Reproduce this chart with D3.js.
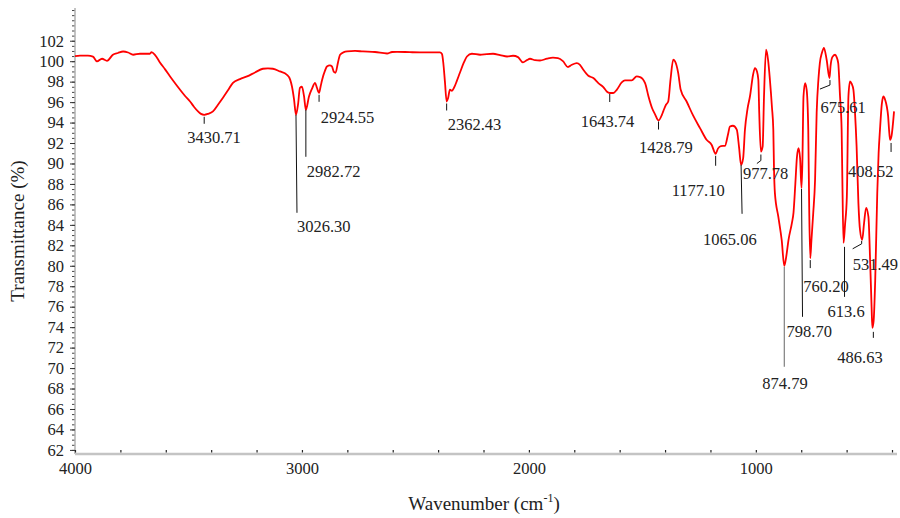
<!DOCTYPE html>
<html>
<head>
<meta charset="utf-8">
<script src="https://cdn.jsdelivr.net/npm/d3@7"></script>
<style>
  html, body { margin: 0; padding: 0; background: #fff; }
  svg { display: block; }
  svg text { font-family: "Liberation Serif", "Times New Roman", "DejaVu Serif", serif !important; }
</style>
</head>
<body>
<svg id="chart" width="900" height="518"></svg>
<script>
// FTIR spectrum: wavenumber (cm-1) against transmittance (%)
const wavenumber = [
  4000, 3978, 3943, 3921, 3903, 3881, 3859, 3833, 3811, 3788, 3766, 3744, 3714, 3670, 3663, 3647,
  3625, 3603, 3581, 3559, 3537, 3515, 3493, 3476, 3458, 3445, 3430.71, 3414, 3392, 3370, 3348, 3326,
  3304, 3273, 3242, 3207, 3172, 3150, 3128, 3097, 3066, 3052, 3044, 3035, 3026.30, 3017, 3009, 3000,
  2991, 2982.72, 2969, 2956, 2942, 2934, 2924.55, 2918, 2911, 2898, 2890, 2877, 2868, 2859, 2852, 2841,
  2832, 2815, 2801, 2766, 2731, 2678, 2625, 2603, 2581, 2524, 2480, 2436, 2392, 2383, 2377, 2370,
  2362.43, 2356, 2348, 2339, 2330, 2317, 2304, 2286, 2273, 2251, 2215, 2185, 2158, 2127, 2096, 2070,
  2048, 2026, 2009, 1995, 1973, 1951, 1920, 1894, 1872, 1850, 1828, 1811, 1789, 1775, 1760, 1738,
  1716, 1694, 1672, 1657, 1643.74, 1628, 1613, 1591, 1577, 1547, 1525, 1510, 1488, 1473, 1457, 1444,
  1428.79, 1414, 1408, 1396, 1386, 1376, 1364, 1356, 1342, 1331, 1305, 1276, 1246, 1217, 1195, 1177.10,
  1167, 1154, 1136, 1123, 1114, 1101, 1084, 1074, 1065.06, 1056, 1048, 1037, 1026, 1012, 1004, 995,
  989, 985, 977.78, 970, 964, 955, 946, 938, 929, 923, 920, 916, 901, 886, 874.79, 866,
  856, 841, 834, 826, 819, 812, 805, 798.70, 795, 790, 783, 776, 769, 764.8, 760.20, 755,
  747, 739, 732, 724, 718, 709, 700, 688, 675.61, 671, 663, 651, 644, 637, 629, 622,
  619, 613.6, 607, 599, 592, 585, 578, 570, 563, 556, 548, 541, 531.49, 523, 514, 504,
  496, 490, 486.63, 481, 474, 465, 459, 453, 445, 438, 430, 423, 417, 413, 408.52, 402,
  397, 391
];
const transmittance = [
  100.50, 100.55, 100.55, 100.45, 99.98, 100.24, 100.04, 100.63, 100.80, 100.95, 100.85, 100.63, 100.73, 100.73, 100.88, 100.60,
  99.85, 99.20, 98.51, 97.85, 97.21, 96.60, 96.06, 95.55, 95.09, 94.85, 94.76, 94.85, 95.09, 95.75, 96.43, 97.15,
  97.89, 98.25, 98.51, 98.90, 99.26, 99.30, 99.26, 99.00, 98.67, 98.20, 97.53, 96.30, 94.76, 95.80, 97.40, 97.50,
  96.60, 95.25, 96.55, 97.30, 97.89, 97.40, 96.91, 97.50, 98.19, 99.10, 99.49, 99.60, 99.49, 98.95, 98.87, 99.90,
  100.63, 100.88, 100.95, 101.00, 100.95, 100.90, 100.75, 100.90, 100.92, 100.88, 100.86, 100.86, 100.86, 100.70, 99.80, 98.00,
  96.06, 96.40, 97.21, 97.10, 97.40, 98.10, 98.87, 99.90, 100.46, 100.73, 100.63, 100.70, 100.73, 100.60, 100.46, 100.53,
  100.40, 99.88, 100.10, 100.24, 100.10, 100.07, 100.25, 100.34, 100.30, 100.00, 99.43, 99.65, 99.82, 99.65, 99.16, 98.58,
  98.35, 97.86, 97.47, 97.04, 96.89, 96.89, 97.20, 97.92, 98.12, 98.12, 98.51, 98.45, 97.86, 96.55, 95.40, 94.80,
  94.20, 94.76, 95.10, 95.74, 96.06, 98.19, 100.14, 99.98, 98.84, 97.20, 96.06, 94.67, 93.46, 92.32, 91.83, 90.95,
  91.45, 91.70, 91.73, 92.80, 93.62, 93.69, 93.30, 91.60, 89.87, 90.50, 93.30, 95.30, 96.55, 98.70, 99.33, 99.00,
  98.19, 94.93, 91.17, 91.66, 96.55, 101.12, 100.10, 98.19, 95.50, 93.30, 89.50, 87.10, 84.80, 82.50, 80.00, 80.90,
  82.54, 84.20, 85.20, 88.00, 90.60, 91.50, 90.50, 87.62, 90.00, 96.55, 97.86, 97.20, 93.30, 85.50, 80.75, 82.50,
  85.18, 88.41, 94.96, 98.30, 99.82, 100.80, 101.30, 100.14, 98.35, 99.50, 100.40, 100.63, 100.40, 99.82, 96.55, 93.30,
  88.80, 82.24, 84.00, 86.77, 96.55, 98.02, 97.80, 97.20, 94.96, 91.66, 86.10, 83.50, 82.54, 84.20, 85.67, 84.80,
  80.20, 76.00, 73.93, 74.60, 78.60, 87.10, 91.00, 93.30, 95.80, 96.55, 96.20, 95.57, 94.60, 93.30, 92.30, 92.70,
  93.62, 95.09
];

// Labelled absorption bands (cm-1)
const peakWavenumbers = [3430.71, 3026.30, 2982.72, 2924.55, 2362.43, 1643.74, 1428.79, 1177.10, 1065.06,
  977.78, 874.79, 798.70, 760.20, 675.61, 613.6, 531.49, 486.63, 408.52];
const peakLabels = ["3430.71", "3026.30", "2982.72", "2924.55", "2362.43", "1643.74", "1428.79", "1177.10", "1065.06",
  "977.78", "874.79", "798.70", "760.20", "675.61", "613.6", "531.49", "486.63", "408.52"];

// Axis ticks
const xTickValues = [4000, 3000, 2000, 1000];
const xTickLabels = ["4000", "3000", "2000", "1000"];
const yTickValues = [102, 100, 98, 96, 94, 92, 90, 88, 86, 84, 82, 80, 78, 76, 74, 72, 70, 68, 66, 64, 62];
const yTickLabels = ["102", "100", "98", "96", "94", "92", "90", "88", "86", "84", "82", "80", "78", "76", "74", "72", "70", "68", "66", "64", "62"];

// Leader line (relative points) and text offset for each band label, in pixels from the band minimum
const labelLayout = [
  { leader: [[0, 2], [0, 9]], dx: -17, dy: 28.5 },
  { leader: [[0, 0], [1, 98]], dx: 1, dy: 117 },
  { leader: [[0, 0], [0, 47]], dx: 1, dy: 67 },
  { leader: [[0, 2], [0, 9]], dx: 1.6, dy: 30.5 },
  { leader: [[0, 2], [0, 9]], dx: 1, dy: 28.5 },
  { leader: [[0, 1], [0, 9]], dx: -29, dy: 33.7 },
  { leader: [[0, 1], [0, 9]], dx: -19.5, dy: 32.8 },
  { leader: [[0, 2], [0, 12]], dx: -44, dy: 42 },
  { leader: [[0, 0], [1, 49]], dx: -38, dy: 80 },
  { leader: [[0, 3], [0, 9], [-4, 12]], dx: -18, dy: 27.5 },
  { leader: [[0, 1], [0, 101]], dx: -22, dy: 123 },
  { leader: [[0, 1], [1, 129]], dx: -15, dy: 149.5 },
  { leader: [[0, 2], [0, 10]], dx: -7, dy: 33.6 },
  { leader: [[0.5, 2], [0.5, 7], [-9.5, 11]], dx: -9, dy: 35 },
  { leader: [[1, 4], [1, 54]], dx: -16, dy: 74 },
  { leader: [[-0.5, 1], [-0.5, 4], [-9.5, 9]], dx: -9.5, dy: 30 },
  { leader: [[1, 4], [1, 10]], dx: -35, dy: 35.4 },
  { leader: [[1, 3], [1, 12]], dx: -42, dy: 36.7 }
];

const FONT = "'Liberation Serif', 'Times New Roman', 'DejaVu Serif', serif";
const svg = d3.select("#chart").attr("font-family", FONT);

const x = d3.scaleLinear().domain([4000, 378]).range([75, 897]);
const y = d3.scaleLinear().domain([61.6, 105.2]).range([454, 8]);

const spectrum = wavenumber.map((w, i) => ({ w, t: transmittance[i] }));

// Left axis: minor ticks every 0.5 %, labelled majors every 2 %
const minorY = d3.range(62, 105.01, 0.5);
const gyMinor = svg.append("g").attr("transform", "translate(75,0)")
  .call(d3.axisLeft(y).tickValues(minorY).tickSize(3).tickFormat(""));
gyMinor.select(".domain").remove();
gyMinor.selectAll(".tick line").attr("stroke", "#444").attr("stroke-width", 1);

const gy = svg.append("g").attr("transform", "translate(75,0)")
  .call(d3.axisLeft(y).tickValues(yTickValues).tickSize(5).tickPadding(6)
    .tickFormat((d, i) => yTickLabels[i]));
gy.attr("font-family", FONT).attr("font-size", 16.5);
gy.select(".domain").attr("stroke", "#b0b0b0").attr("stroke-width", 1.5)
  .attr("d", `M0,${y.range()[0]}V${y.range()[1]}`);
gy.selectAll(".tick line").attr("stroke", "#333");
gy.selectAll(".tick text").attr("fill", "#222");

// Bottom axis: thick grey baseline with small inward ticks every 200 cm-1
const minorX = d3.range(4000, 377, -200);
const gxMinor = svg.append("g").attr("transform", "translate(0,454)")
  .call(d3.axisBottom(x).tickValues(minorX).tickSize(-3).tickFormat(""));
gxMinor.select(".domain").attr("stroke", "#c4c4c4").attr("stroke-width", 2.5)
  .attr("d", `M${x.range()[0]},0H${x.range()[1]}`);
gxMinor.selectAll(".tick line").attr("stroke", "#222").attr("stroke-width", 1.2)
  .attr("y1", -1.5).attr("y2", -4);

const gx = svg.append("g").attr("transform", "translate(0,454)")
  .call(d3.axisBottom(x).tickValues(xTickValues).tickSize(0).tickPadding(8)
    .tickFormat((d, i) => xTickLabels[i]));
gx.attr("font-family", FONT).attr("font-size", 16.5);
gx.select(".domain").remove();
gx.selectAll(".tick text").attr("fill", "#222");

// Axis titles
svg.append("text")
  .attr("transform", "translate(24,231) rotate(-90)")
  .attr("text-anchor", "middle")
  .attr("fill", "#222")
  .attr("font-size", 19)
  .text("Transmittance (%)");

const xt = svg.append("text")
  .attr("x", 484).attr("y", 510)
  .attr("text-anchor", "middle")
  .attr("fill", "#222")
  .attr("font-size", 19);
xt.append("tspan").text("Wavenumber (cm");
xt.append("tspan").attr("dy", -8).attr("font-size", 12).text("-1");
xt.append("tspan").attr("dy", 8).text(")");

// Spectrum trace
const line = d3.line().x(d => x(d.w)).y(d => y(d.t)).curve(d3.curveMonotoneX);
svg.append("path")
  .datum(spectrum)
  .attr("fill", "none")
  .attr("stroke", "#ff0000")
  .attr("stroke-width", 1.8)
  .attr("stroke-linejoin", "round")
  .attr("d", line);

// Band labels with leader lines
const ann = svg.append("g").attr("font-family", FONT).attr("font-size", 16.5);
peakWavenumbers.forEach((w, i) => {
  const idx = wavenumber.indexOf(w);
  const px = x(w), py = y(transmittance[idx]);
  const lay = labelLayout[i];
  ann.append("path")
    .attr("fill", "none")
    .attr("stroke", i === 10 ? "#666" : "#111")
    .attr("stroke-width", 1)
    .attr("d", d3.line()(lay.leader.map(p => [px + p[0], py + p[1]])));
  ann.append("text")
    .attr("x", px + lay.dx)
    .attr("y", py + lay.dy)
    .attr("fill", "#222")
    .text(peakLabels[i]);
});
</script>
</body>
</html>
